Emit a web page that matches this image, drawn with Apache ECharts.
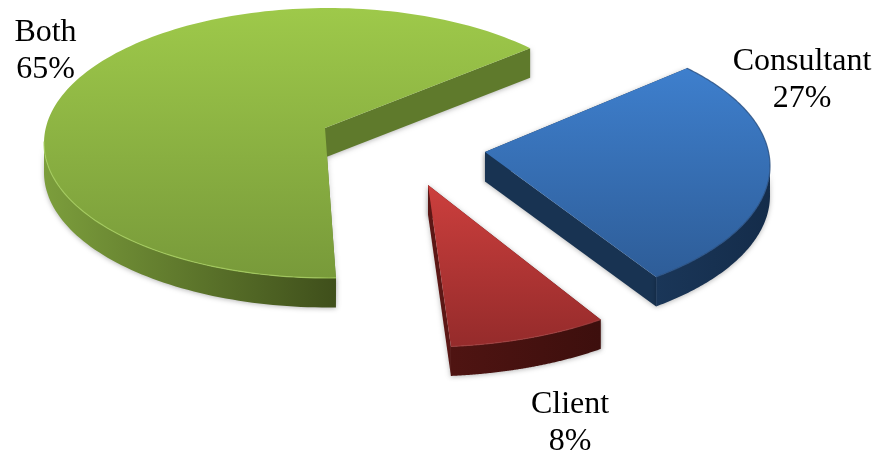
<!DOCTYPE html>
<html>
<head>
<meta charset="utf-8">
<style>html,body{margin:0;padding:0;background:#fff}#chart{width:877px;height:454px}</style>
<script src="https://cdn.jsdelivr.net/npm/echarts@6/dist/echarts.min.js"></script>
</head>
<body>
<div id="chart"></div>
<script>
// Share of responses per party
const categories = ['Consultant', 'Client', 'Both'];
const shares = [27, 8, 65];

// Tilted-disc geometry: every wedge sits on its own ellipse (exploded view)
const DEPTH = 29.5;
const layouts = [
  { cx: 478, cy: 166, rx: 292, ry: 140, apex: [485, 152], arcStart: -44.3, foreshorten: 0.995, label: [802, 80.5] },
  { cx: 424, cy: 212, rx: 292, ry: 135, apex: [428, 185], arcStart: 52.8,  foreshorten: 1.108, label: [570, 423] },
  { cx: 328, cy: 143, rx: 284, ry: 135, apex: [325, 128], arcStart: 88.4,  foreshorten: 0.97,  label: [45.5, 51.5] }
];
const palettes = [
  { top: ['#3e7fcd', '#2e5d98'], wall: ['#1a3658', '#142c4a'], cut: '#183352', bevel: '#264c7e' },
  { top: ['#cc3f3d', '#952b2b'], wall: ['#4f1412', '#3d0f0d'], cut: '#5c1715', bevel: '#a04040' },
  { top: ['#9ec94a', '#789a3a'], wall: ['#7c9e3c', '#3f4f1b'], cut: '#5f7a2c', bevel: '#a8cf60' }
];

function gradient(x0, y0, x1, y1, colors) {
  return { type: 'linear', x: x0, y: y0, x2: x1, y2: y1, global: true,
    colorStops: [{ offset: 0, color: colors[0] }, { offset: 1, color: colors[1] }] };
}

function renderWedge(params, api) {
  const i = params.dataIndex;
  const value = api.value(0);
  const g = layouts[i], pal = palettes[i];
  const sweep = value / 100 * 360 * g.foreshorten;
  const at = t => [g.cx + g.rx * Math.cos(t * Math.PI / 180),
                   g.cy + g.ry * Math.sin(t * Math.PI / 180)];
  const drop = p => [p[0], p[1] + DEPTH];

  const arc = [];
  for (let k = 0; k <= 160; k++) arc.push(at(g.arcStart + sweep * k / 160));
  const first = arc[0], last = arc[arc.length - 1];

  // Only the part of the rim facing the viewer gets a wall
  const front = arc.filter(p => p[1] >= g.cy - 2);
  const wallPts = front.concat(front.slice().reverse().map(drop));
  const xs = front.map(p => p[0]);
  const wallL = Math.min.apply(null, xs), wallR = Math.max.apply(null, xs);

  const ys = arc.map(p => p[1]).concat(g.apex[1]);
  const topY = Math.min.apply(null, ys), bottomY = Math.max.apply(null, ys);

  const cutFace = (rimPt) => ({
    type: 'polygon',
    shape: { points: [g.apex, rimPt, drop(rimPt), drop(g.apex)] },
    style: { fill: pal.cut, shadowBlur: 5, shadowColor: 'rgba(0,0,0,0.28)', shadowOffsetY: 1 }
  });

  return {
    type: 'group',
    children: [
      cutFace(first),
      cutFace(last),
      {
        type: 'polygon',
        shape: { points: wallPts },
        style: {
          fill: gradient(wallL, 0, wallR, 0, pal.wall),
          shadowBlur: 5, shadowColor: 'rgba(0,0,0,0.28)', shadowOffsetY: 1
        }
      },
      {
        type: 'polygon',
        shape: { points: [g.apex].concat(arc) },
        style: { fill: gradient(0, topY, 0, bottomY, pal.top) }
      },
      {
        type: 'polyline',
        shape: { points: i === 0 ? arc : front },
        style: { fill: null, stroke: pal.bevel, lineWidth: 1.2, opacity: 0.8 }
      },
      {
        type: 'text',
        style: {
          x: g.label[0], y: g.label[1],
          text: categories[i] + '\n' + value + '%',
          fill: '#000',
          font: '32px "Liberation Serif", "Times New Roman", serif',
          lineHeight: 37,
          align: 'center',
          verticalAlign: 'middle'
        }
      }
    ]
  };
}

const chart = echarts.init(document.getElementById('chart'), null, { renderer: 'canvas' });
chart.setOption({
  animation: false,
  backgroundColor: '#ffffff',
  series: [{
    type: 'custom',
    coordinateSystem: 'none',
    silent: true,
    data: shares.map((v, i) => ({ name: categories[i], value: [v] })),
    renderItem: renderWedge
  }]
});
</script>
</body>
</html>
